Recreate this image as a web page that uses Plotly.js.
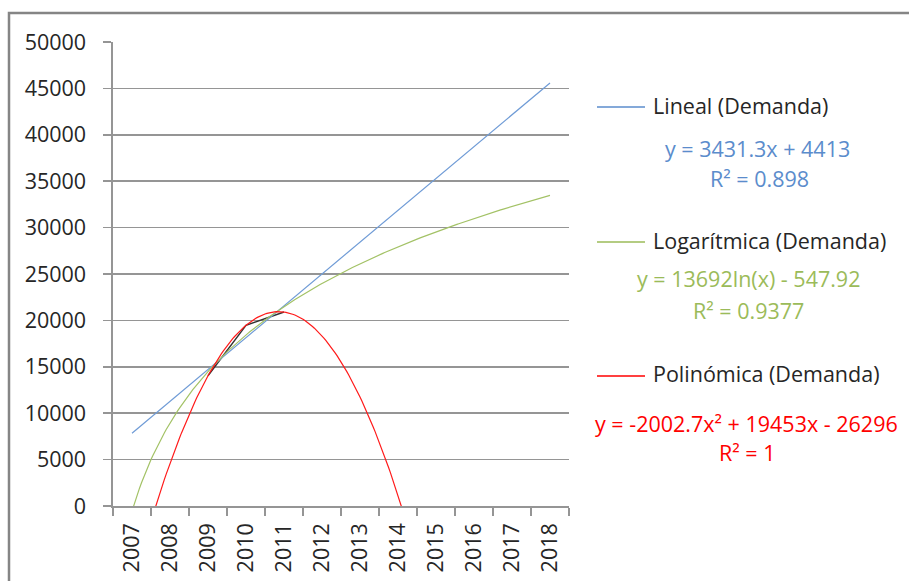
<!DOCTYPE html>
<html>
<head>
<meta charset="utf-8">
<script src="https://cdn.plot.ly/plotly-3.0.1.min.js"></script>
<style>
html,body{margin:0;padding:0;background:#fff;}
#chart{width:909px;height:581px;}
</style>
</head>
<body>
<div id="chart"></div>
<script>
// ---- Data ----
const years = ["2007","2008","2009","2010","2011","2012","2013","2014","2015","2016","2017","2018"];
const demandaX = [3, 4, 5];                 // category index of observed years (2009-2011)
const demandaY = [14039, 19473, 20902];     // Demanda values
// Trendline coefficients as printed on the chart
const linCoef  = [3431.3, 4413];            // y = a x + b
const logCoef  = [13692, -547.92];          // y = a ln(x) + b
const polyCoef = [-2002.7, 19453, -26296];  // y = a x^2 + b x + c
const trendNames = ["Lineal (Demanda)", "Logarítmica (Demanda)", "Polinómica (Demanda)"];
const trendEq = ["y = 3431.3x + 4413", "y = 13692ln(x) - 547.92", "y = -2002.7x² + 19453x - 26296"];
const trendR2 = ["R² = 0.898", "R² = 0.9377", "R² = 1"];

// trendline evaluation over the category range (1..12)
const xs = [];
for (let i = 0; i <= 220; i++) xs.push(1 + i * 11 / 220);
const linY  = xs.map(x => linCoef[0] * x + linCoef[1]);
const logY  = xs.map(x => logCoef[0] * Math.log(x) + logCoef[1]);
const polyY = xs.map(x => polyCoef[0] * x * x + polyCoef[1] * x + polyCoef[2]);

const FONT = "'Open Sans', Lato, sans-serif";
const FS = 21.5;
const lineCol = ["#6f9bd6", "#a3c266", "#ff1a1a"];
const txtCol  = ["#5b8ccc", "#9bbb59", "#ff0000"];
const grid = "#959595";

const traces = [
  {x: demandaX, y: demandaY, mode: "lines", name: "Demanda", line: {color: "#333333", width: 1.4}, showlegend: false},
  {x: xs, y: linY,  mode: "lines", name: trendNames[0], line: {color: lineCol[0], width: 1.2}, showlegend: false},
  {x: xs, y: logY,  mode: "lines", name: trendNames[1], line: {color: lineCol[1], width: 1.2}, showlegend: false},
  {x: xs, y: polyY, mode: "lines", name: trendNames[2], line: {color: lineCol[2], width: 1.2}, showlegend: false}
];

// pixel -> paper helpers (plot area 113..569 x 42..506)
const L = 113, R = 569, T = 42, B = 506;
const px = v => (v - L) / (R - L);
const py = v => (B - v) / (B - T);

const legY = [105, 240, 374];
const eqPos = [[757, 148, 759, 178], [748, 278, 748, 310], [746, 423, 747, 452]];

const annotations = [];
const shapes = [];
for (let k = 0; k < 3; k++) {
  annotations.push({xref: "paper", yref: "paper", x: px(651), y: py(legY[k]), xanchor: "left", yanchor: "middle",
    text: trendNames[k], showarrow: false, font: {family: FONT, size: FS, color: "#262626"}});
  annotations.push({xref: "paper", yref: "paper", x: px(eqPos[k][0]), y: py(eqPos[k][1]), xanchor: "center", yanchor: "middle",
    text: trendEq[k], showarrow: false, font: {family: FONT, size: FS, color: txtCol[k]}});
  annotations.push({xref: "paper", yref: "paper", x: px(eqPos[k][2]), y: py(eqPos[k][3]), xanchor: "center", yanchor: "middle",
    text: trendR2[k], showarrow: false, font: {family: FONT, size: FS, color: txtCol[k]}});
  shapes.push({type: "line", xref: "paper", yref: "paper", x0: px(597), x1: px(645), y0: py(legY[k] + 2), y1: py(legY[k] + 2),
    line: {color: txtCol[k], width: 1.3}});
}
// outer chart frame (left and top edges visible)
shapes.push({type: "rect", xref: "paper", yref: "paper", x0: px(9), x1: px(1000), y0: py(700), y1: py(13),
  line: {color: "#858585", width: 2.5}, fillcolor: "rgba(0,0,0,0)", layer: "below"});

const layout = {
  width: 909, height: 581,
  margin: {l: L, r: 909 - R, t: T, b: 581 - B, pad: 0},
  paper_bgcolor: "#ffffff", plot_bgcolor: "#ffffff",
  showlegend: false,
  font: {family: FONT, size: FS, color: "#262626"},
  xaxis: {
    range: [0.5, 12.5], tickmode: "array", tickvals: years.map((_, i) => i + 1), ticktext: years,
    tickangle: -90, ticks: "", showgrid: false, zeroline: false,
    showline: true, linecolor: grid, linewidth: 1.6,
    ticklabelstandoff: 7,
    tickfont: {family: FONT, size: FS, color: "#262626"},
    minor: {tick0: 0.5, dtick: 1, ticks: "outside", ticklen: 8, tickcolor: grid, tickwidth: 1.6, showgrid: false},
    fixedrange: true
  },
  yaxis: {
    range: [0, 50000], dtick: 5000, tick0: 0, tickformat: "d", showgrid: true, gridcolor: grid, gridwidth: 1.6,
    zeroline: false, showline: true, linecolor: grid, linewidth: 1.6,
    ticks: "outside", ticklen: 8, tickcolor: grid, tickwidth: 1.6,
    ticklabelstandoff: 13,
    tickfont: {family: FONT, size: FS, color: "#262626"},
    fixedrange: true
  },
  annotations: annotations,
  shapes: shapes
};

Plotly.newPlot("chart", traces, layout, {displayModeBar: false, staticPlot: true});
</script>
</body>
</html>
